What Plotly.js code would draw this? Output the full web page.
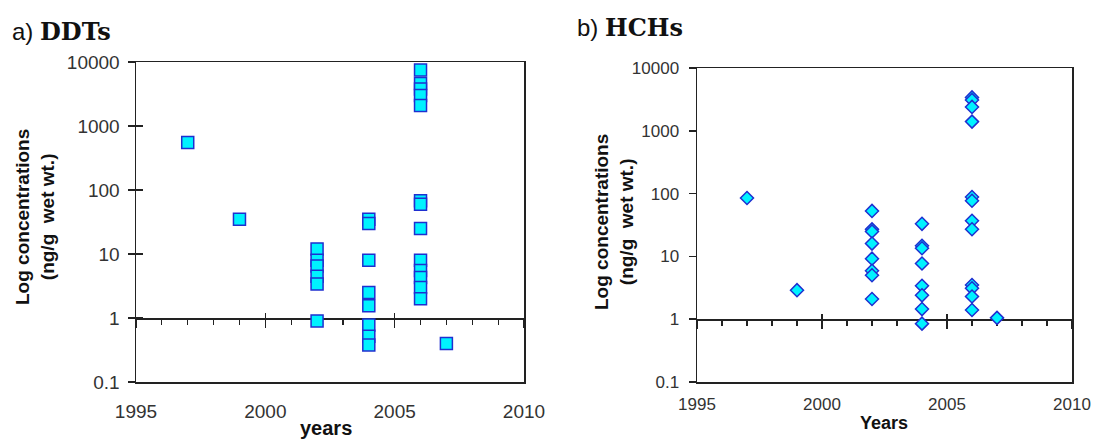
<!DOCTYPE html>
<html>
<head>
<meta charset="utf-8">
<script src="https://cdn.plot.ly/plotly-3.0.1.min.js"></script>
<style>html,body{margin:0;padding:0;background:#fff;}#chart{width:1093px;height:439px;}</style>
</head>
<body>
<div id="chart"></div>
<script>
// ---- data ----
const ddtYears  = [1997, 1999, 2002, 2002, 2002, 2002, 2002, 2002,
                   2004, 2004, 2004, 2004, 2004, 2004, 2004, 2004,
                   2006, 2006, 2006, 2006, 2006, 2006, 2006, 2006, 2006, 2006, 2006, 2006, 2006,
                   2007];
const ddtValues = [550, 35, 12, 8, 6.5, 4.5, 3.4, 0.9,
                   35, 30, 8, 2.5, 1.55, 0.78, 0.52, 0.38,
                   7500, 4600, 3800, 3000, 2100, 68, 60, 25, 8, 5.5, 4.3, 3, 2,
                   0.4];
const hchYears  = [1997, 1999, 2002, 2002, 2002, 2002, 2002, 2002, 2002, 2002,
                   2004, 2004, 2004, 2004, 2004, 2004, 2004, 2004,
                   2006, 2006, 2006, 2006, 2006, 2006, 2006, 2006, 2006, 2006, 2006, 2006,
                   2007];
const hchValues = [85, 2.9, 53, 27, 25, 16, 9.2, 5.9, 5, 2.1,
                   33, 14.8, 13.5, 7.7, 3.4, 2.4, 1.45, 0.85,
                   3400, 3100, 2400, 1400, 88, 77, 37, 27, 3.5, 3.1, 2.3, 1.4,
                   1.05];
const yTickVals   = [0.1, 1, 10, 100, 1000, 10000];
const yTickLabels = ['0.1', '1', '10', '100', '1000', '10000'];
const xTickVals   = [1995, 2000, 2005, 2010];
const xTickLabels = ['1995', '2000', '2005', '2010'];
const xRange = [1995, 2010];
const yLogRange = [-1, 4];

// ---- geometry (paper fractions) ----
const W = 1093, H = 439;
const px = v => v / W, py = v => (H - v) / H;
const domX1 = [px(136), px(524)], domY1 = [py(382), py(62)];
const domX2 = [px(697), px(1072)], domY2 = [py(382), py(68)];
const onePos1 = domY1[0] + 0.2 * (domY1[1] - domY1[0]);
const onePos2 = domY2[0] + 0.2 * (domY2[1] - domY2[0]);

const LINE = '#222';
const FONT = 'Liberation Sans, Arial, sans-serif';
const mk = (sym, size) => ({symbol: sym, size: size, color: '#00f2ff', line: {color: '#1f2fd0', width: 1.5}});

const traces = [
  {x: ddtYears, y: ddtValues, type: 'scatter', mode: 'markers', xaxis: 'x', yaxis: 'y',
   marker: mk('square', 12), showlegend: false, hoverinfo: 'x+y'},
  {x: hchYears, y: hchValues, type: 'scatter', mode: 'markers', xaxis: 'x2', yaxis: 'y2',
   marker: mk('diamond', 10), showlegend: false, hoverinfo: 'x+y'}
];
// empty helper traces so the overlay axes (y = 1 crossing axis, inner ticks) get drawn
[['x3', 'y'], ['x5', 'y'], ['x', 'y3'], ['x4', 'y2'], ['x6', 'y2']].forEach(([xa, ya]) => {
  traces.push({x: [], y: [], type: 'scatter', mode: 'markers', xaxis: xa, yaxis: ya,
    showlegend: false, hoverinfo: 'skip'});
});

function mainX(dom, anchor, fs, standoff) {
  return {domain: dom, anchor: anchor, range: xRange, tickvals: xTickVals, ticktext: xTickLabels,
    ticks: '', showline: true, mirror: true, linecolor: LINE, linewidth: 1.5, showgrid: false,
    zeroline: false, automargin: false, ticklabelstandoff: standoff,
    tickfont: {family: FONT, size: fs, color: '#333'}};
}
function mainY(dom, anchor, fs, standoff) {
  return {domain: dom, anchor: anchor, type: 'log', range: yLogRange, tickvals: yTickVals, ticktext: yTickLabels,
    ticks: 'outside', ticklen: 7, tickwidth: 1.5, tickcolor: LINE, showline: true, mirror: true,
    linecolor: LINE, linewidth: 1.5, showgrid: false, zeroline: false, automargin: false,
    ticklabelstandoff: standoff, tickfont: {family: FONT, size: fs, color: '#333'}};
}
function oneAxisDown(over, pos, dom) {
  return {overlaying: over, anchor: 'free', position: pos, domain: dom, range: xRange, side: 'bottom',
    layer: 'below traces',
    tickmode: 'linear', tick0: 1995, dtick: 5, ticks: 'outside', ticklen: 8, tickwidth: 1.5, tickcolor: LINE,
    minor: {tickmode: 'linear', tick0: 1995, dtick: 1, ticks: 'outside', ticklen: 5, tickwidth: 1.2, tickcolor: LINE},
    showticklabels: false, showline: true, linecolor: LINE, linewidth: 1.5, showgrid: false, zeroline: false,
    automargin: false};
}
function oneAxisUp(over, pos, dom) {
  return {overlaying: over, anchor: 'free', position: pos, domain: dom, range: xRange, side: 'bottom',
    layer: 'below traces',
    tickmode: 'linear', tick0: 2000, dtick: 5, ticks: 'inside', ticklen: 5, tickwidth: 1.5, tickcolor: LINE,
    showticklabels: false, showline: false, showgrid: false, zeroline: false, automargin: false};
}

const layout = {
  width: W, height: H, margin: {l: 0, r: 0, t: 0, b: 0},
  paper_bgcolor: '#fff', plot_bgcolor: 'rgba(0,0,0,0)', showlegend: false,
  xaxis: mainX(domX1, 'y', 19, 12),
  yaxis: mainY(domY1, 'x', 19, 4),
  xaxis2: mainX(domX2, 'y2', 17, 6),
  yaxis2: mainY(domY2, 'x2', 17, 6),
  xaxis3: oneAxisDown('x', onePos1, domX1),
  xaxis4: oneAxisDown('x2', onePos2, domX2),
  xaxis5: oneAxisUp('x', onePos1, domX1),
  xaxis6: oneAxisUp('x2', onePos2, domX2),
  yaxis3: {overlaying: 'y', anchor: 'x', domain: domY1, type: 'log', range: yLogRange, tickvals: yTickVals,
    ticks: 'inside', ticklen: 7, tickwidth: 1.5, tickcolor: LINE, showticklabels: false,
    showline: false, showgrid: false, zeroline: false, automargin: false},
  annotations: [
    {xref: 'paper', yref: 'paper', x: px(10), y: py(31), xanchor: 'left', yanchor: 'middle', showarrow: false,
     text: 'a) <span style="font-family:DejaVu Serif;font-weight:bold">DDTs</span>',
     font: {family: FONT, size: 24, color: '#111'}},
    {xref: 'paper', yref: 'paper', x: px(575), y: py(27), xanchor: 'left', yanchor: 'middle', showarrow: false,
     text: 'b) <span style="font-family:DejaVu Serif;font-weight:bold">HCHs</span>',
     font: {family: FONT, size: 24, color: '#111'}},
    {xref: 'paper', yref: 'paper', x: px(35), y: py(217), xanchor: 'center', yanchor: 'middle', showarrow: false,
     textangle: -90, text: '<b>Log concentrations<br>(ng/g  wet wt.)</b>',
     font: {family: FONT, size: 19, color: '#111'}},
    {xref: 'paper', yref: 'paper', x: px(614), y: py(222), xanchor: 'center', yanchor: 'middle', showarrow: false,
     textangle: -90, text: '<b>Log concentrations<br>(ng/g  wet wt.)</b>',
     font: {family: FONT, size: 19, color: '#111'}},
    {xref: 'paper', yref: 'paper', x: px(326), y: py(428), xanchor: 'center', yanchor: 'middle', showarrow: false,
     text: '<b>years</b>', font: {family: FONT, size: 20, color: '#111'}},
    {xref: 'paper', yref: 'paper', x: px(884), y: py(423), xanchor: 'center', yanchor: 'middle', showarrow: false,
     text: '<b>Years</b>', font: {family: FONT, size: 18, color: '#111'}}
  ]
};

Plotly.newPlot('chart', traces, layout, {staticPlot: true, displayModeBar: false});
</script>
</body>
</html>
